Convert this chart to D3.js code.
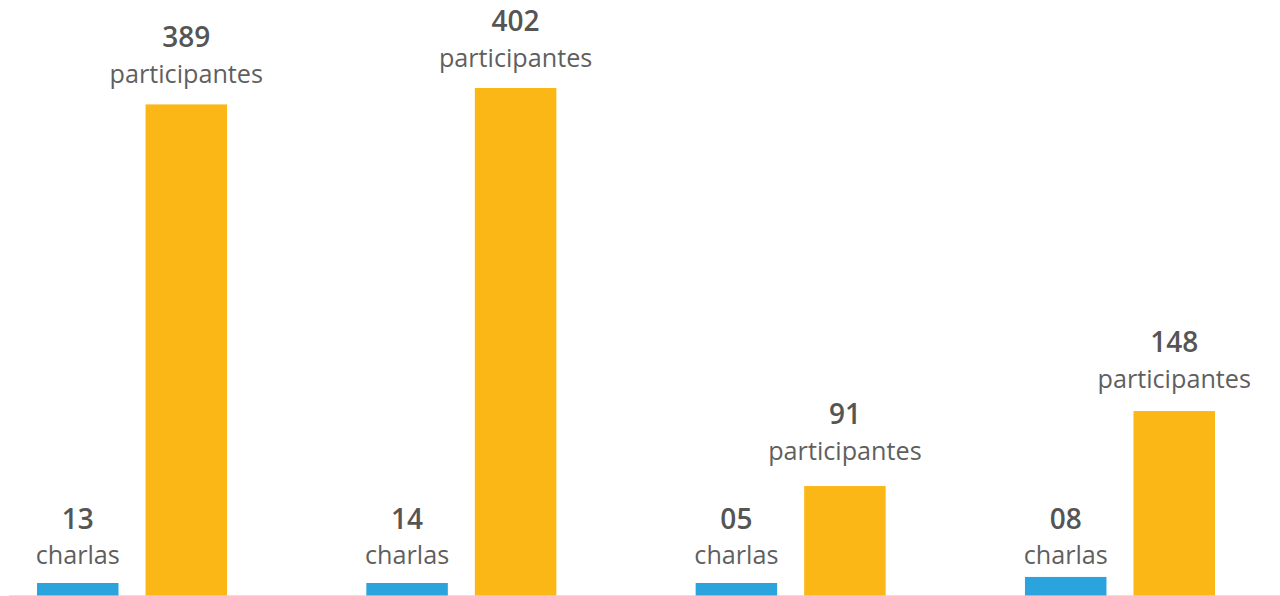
<!DOCTYPE html>
<html>
<head>
<meta charset="utf-8">
<script src="https://cdn.jsdelivr.net/npm/d3@7"></script>
<style>
  body { margin: 0; background: #fff; }
  text { font-family: "Open Sans", "Noto Sans", sans-serif; }
</style>
</head>
<body>
<div id="chart"></div>
<script>
// data
var grupos = ["g1", "g2", "g3", "g4"]
var series = ["charlas", "participantes"]
// label texts
var charlasTexto = ["13", "14", "05", "08"]
var participantesTexto = ["389", "402", "91", "148"]
// bar heights as drawn in the reference
var charlasValor = [9.9, 9.9, 9.9, 14.7]
var participantesValor = [389, 402, 86.7, 146.1]

var width = 1280, height = 596
var baseY = 595.5

var svg = d3.select("#chart")
  .append("svg")
    .attr("width", width)
    .attr("height", height)

// scales
var x0 = d3.scaleBand()
  .domain(grupos)
  .range([0, 1252])
  .paddingInner(0.423)
  .paddingOuter(0.1124)

var x1 = d3.scaleBand()
  .domain(series)
  .range([0, x0.bandwidth()])
  .paddingInner(0.249)

var y = d3.scaleLinear()
  .domain([0, 402])
  .range([baseY, 88])

var color = d3.scaleOrdinal()
  .domain(series)
  .range(["#2BA3DC", "#FBB716"])

// baseline
svg.append("line")
  .attr("x1", 9).attr("x2", width)
  .attr("y1", 595.8).attr("y2", 595.8)
  .style("stroke", "#e2e2e2")
  .style("stroke-width", 1.5)

var filas = grupos.map(function(g, i) {
  return {g: g, charlas: charlasValor[i], participantes: participantesValor[i],
          tc: charlasTexto[i], tp: participantesTexto[i]}
})

var grupo = svg.selectAll(".grupo")
  .data(filas)
  .enter()
  .append("g")
    .attr("class", "grupo")
    .attr("transform", function(d) { return "translate(" + x0(d.g) + ",0)" })

grupo.selectAll("rect")
  .data(function(d) { return series.map(function(s) { return {s: s, v: d[s]} }) })
  .enter()
  .append("rect")
    .attr("x", function(d) { return x1(d.s) })
    .attr("y", function(d) { return y(d.v) })
    .attr("width", x1.bandwidth())
    .attr("height", function(d) { return baseY - y(d.v) })
    .style("fill", function(d) { return color(d.s) })

// charlas labels sit at a common height (above the tallest blue bar)
var topCharlas = y(d3.max(charlasValor))
var cxC = x1("charlas") + x1.bandwidth() / 2
var cxP = x1("participantes") + x1.bandwidth() / 2

grupo.append("text")
  .attr("x", cxC)
  .attr("y", topCharlas - 48)
  .attr("text-anchor", "middle")
  .style("font-size", "28px")
  .style("font-weight", 600)
  .style("fill", "#555555")
  .text(function(d) { return d.tc })

grupo.append("text")
  .attr("x", cxC)
  .attr("y", topCharlas - 13)
  .attr("text-anchor", "middle")
  .style("font-size", "25.2px")
  .style("fill", "#5f5f5f")
  .text("charlas")

// participantes labels follow the value they show
grupo.append("text")
  .attr("x", cxP)
  .attr("y", function(d) { return y(+d.tp) - 57 })
  .attr("text-anchor", "middle")
  .style("font-size", "28px")
  .style("font-weight", 600)
  .style("fill", "#555555")
  .text(function(d) { return d.tp })

grupo.append("text")
  .attr("x", cxP)
  .attr("y", function(d) { return y(+d.tp) - 21 })
  .attr("text-anchor", "middle")
  .style("font-size", "25.2px")
  .style("fill", "#5f5f5f")
  .text("participantes")
</script>
</body>
</html>
